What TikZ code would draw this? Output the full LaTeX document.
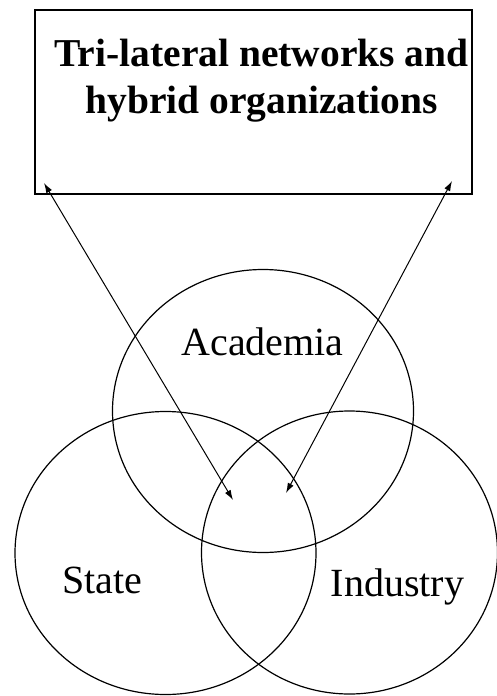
\documentclass[tikz,border=0pt]{standalone}
\usepackage{fontspec}
\setmainfont{Liberation Serif}
\usetikzlibrary{positioning, shapes.geometric, arrows.meta}

\begin{document}
\begin{tikzpicture}[x=1pt, y=-1pt, line width=1.2pt,
        sphere/.style={draw, ellipse, inner sep=0pt, minimum width=301pt, minimum height=283pt},
        label/.style={anchor=base, font=\fontsize{40}{48}\selectfont},
        link/.style={{Latex[length=10pt,width=6.5pt]}-{Latex[length=10pt,width=6.5pt]}, line width=1pt}]

        \useasboundingbox (0,0) rectangle (496,696);

        \node[draw, rectangle, minimum width=437pt, minimum height=184pt, inner sep=0pt] (B) at (253.5,102) {};
        \node[anchor=base, align=center, font=\fontsize{39.5}{47}\selectfont\bfseries] (T) at (261.5,113) {Tri-lateral networks and\\hybrid organizations};

        \node[sphere] (A) at (263,411) {};
        \node[sphere] (S) at (165.5,553) {};
        \node[sphere, minimum width=296pt] (I) at (349.5,552.5) {};

        \node[label] (a) at (262.5,355) {Academia};
        \node[label] (s) at (102,593) {State};
        \node[label] (i) at (397.5,596) {Industry};

        \coordinate (BL) at (44,183);
        \coordinate (BR) at (452,181);
        \coordinate (CL) at (233,500);
        \coordinate (CR) at (286,493);

        \draw[link] (BL) -- (CL);
        \draw[link] (BR) -- (CR);

    \end{tikzpicture}
\end{document}
